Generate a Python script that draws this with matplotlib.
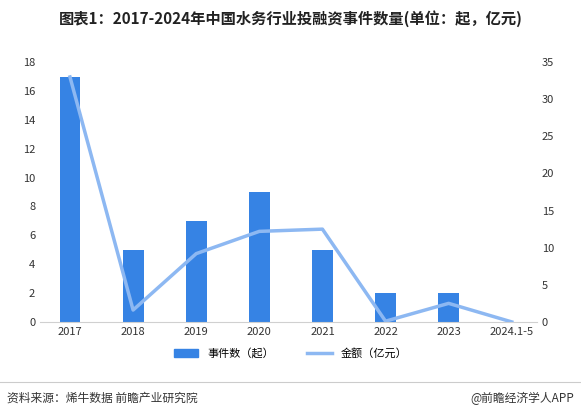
import matplotlib
matplotlib.use("Agg")
import matplotlib.pyplot as plt
import numpy as np
from matplotlib.patches import Patch
from matplotlib.lines import Line2D

plt.rcParams['font.family'] = ['Noto Sans CJK SC', 'DejaVu Sans']

categories = ['2017', '2018', '2019', '2020', '2021', '2022', '2023', '2024.1-5']
counts = [17, 5, 7, 9, 5, 2, 2, 0]
amounts = [33, 1.6, 9.2, 12.2, 12.5, 0.1, 2.5, 0]

fig = plt.figure(figsize=(5.81, 4.17), dpi=100)
ax = fig.add_axes([40/581, 0.228, 497/581, 0.623])
ax2 = ax.twinx()
x = np.arange(len(categories))
ax.bar(x, counts, width=0.33, color='#3683E4', zorder=2)
ax2.plot(x, amounts, color='#8DB8F2', lw=2.5, zorder=3)
ax.set_ylim(0, 18)
ax.set_yticks(range(0, 19, 2))
ax2.set_ylim(0, 35)
ax2.set_yticks(range(0, 36, 5))
ax.set_xlim(-0.475, 7.4)
ax.set_xticks(x)
ax.set_xticklabels(categories)
for a in (ax, ax2):
    for s in a.spines.values():
        s.set_visible(False)
    a.tick_params(length=0, labelsize=8, colors='#333333')
ax.spines['bottom'].set_visible(True)
ax.spines['bottom'].set_color('#d0d0d0')

fig.text(0.5, 0.955, '图表1：2017-2024年中国水务行业投融资事件数量(单位：起，亿元)',
         ha='center', va='center', fontsize=11, fontweight='bold', color='#222222')
h = [Patch(color='#3683E4'), Line2D([0], [0], color='#8DB8F2', lw=2.5)]
fig.legend(h, ['事件数（起）', '金额（亿元）'], loc='center', bbox_to_anchor=(0.5, 0.153),
           ncol=2, frameon=False, fontsize=8, handlelength=2.2, columnspacing=3)
fig.add_artist(Line2D([0, 1], [0.083, 0.083], color='#cccccc', lw=0.8))
fig.text(0.012, 0.045, '资料来源：烯牛数据 前瞻产业研究院', fontsize=8.5, color='#333333', va='center')
fig.text(0.988, 0.045, '@前瞻经济学人APP', fontsize=8.5, color='#333333', va='center', ha='right')
fig.savefig('out.png', dpi=100)
